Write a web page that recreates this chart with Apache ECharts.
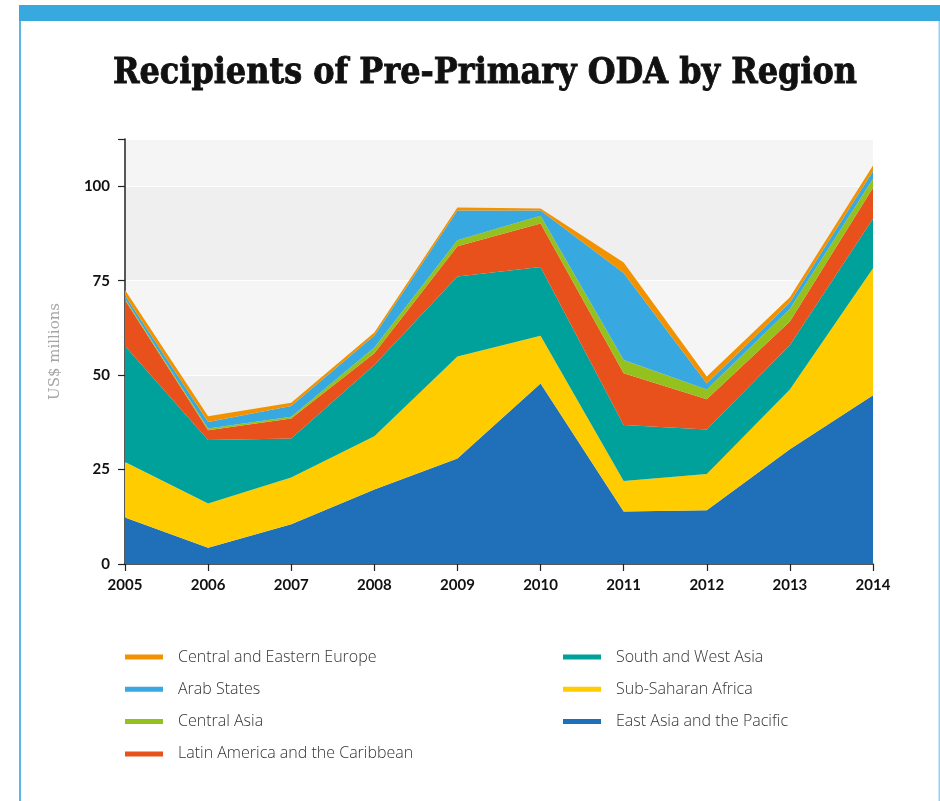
<!DOCTYPE html>
<html>
<head>
<meta charset="utf-8">
<script src="https://cdn.jsdelivr.net/npm/echarts@6/dist/echarts.min.js"></script>
<style>
html,body{margin:0;padding:0;background:#fff;}
#chart{width:940px;height:801px;}
</style>
</head>
<body>
<div id="chart"></div>
<script>
const years = ['2005','2006','2007','2008','2009','2010','2011','2012','2013','2014'];
const eastAsiaPacific = [12.3, 4.3, 10.5, 19.7, 27.9, 47.8, 13.9, 14.2, 30.4, 44.7];
const subSaharanAfrica = [14.7, 11.7, 12.4, 14.1, 27.0, 12.6, 8.1, 9.6, 15.8, 33.6];
const southWestAsia = [30.7, 16.8, 10.3, 18.9, 21.2, 18.2, 14.8, 11.8, 11.8, 13.1];
const latinAmerica = [12.2, 2.6, 5.3, 3.1, 8.0, 11.5, 13.7, 8.0, 6.2, 8.2];
const centralAsia = [0.3, 0.5, 0.5, 1.5, 1.6, 2.1, 3.5, 2.6, 3.3, 2.4];
const arabStates = [0.9, 1.7, 2.8, 3.2, 7.9, 1.4, 23.0, 1.6, 1.7, 2.0];
const centralEasternEurope = [1.4, 1.5, 0.9, 0.8, 0.8, 0.5, 2.8, 1.8, 1.4, 1.5];
const yTicks = [0, 25, 50, 75, 100];

const seriesDefs = [
  {name: 'East Asia and the Pacific', data: eastAsiaPacific, color: '#1F70B8'},
  {name: 'Sub-Saharan Africa', data: subSaharanAfrica, color: '#FFCC00'},
  {name: 'South and West Asia', data: southWestAsia, color: '#00A19A'},
  {name: 'Latin America and the Caribbean', data: latinAmerica, color: '#E8501C'},
  {name: 'Central Asia', data: centralAsia, color: '#95C11F'},
  {name: 'Arab States', data: arabStates, color: '#38A9E0'},
  {name: 'Central and Eastern Europe', data: centralEasternEurope, color: '#F39200'}
];

const chart = echarts.init(document.getElementById('chart'), null, {renderer: 'canvas'});
const legendText = {fontFamily: '"Open Sans", sans-serif', fontWeight: 300, fontSize: 16, color: '#333', lineHeight: 16, padding: [0, 0, 0, 10]};
const option = {
  animation: false,
  color: seriesDefs.map(s => s.color),
  title: {
    text: 'Recipients of Pre-Primary ODA by Region',
    left: 480, top: 51, textAlign: 'center',
    textStyle: {fontFamily: '"DejaVu Serif Condensed", "DejaVu Serif", serif', fontWeight: 'bold', fontSize: 35.5, color: '#111', textBorderColor: '#111', textBorderWidth: 0.8}
  },
  graphic: [
    {type: 'rect', shape: {x: 19, y: 5, width: 921, height: 16}, style: {fill: '#38A9DF'}},
    {type: 'rect', shape: {x: 19, y: 21, width: 2, height: 780}, style: {fill: '#5AB6E6'}},
    {type: 'rect', shape: {x: 938.5, y: 21, width: 1.5, height: 780}, style: {fill: '#9ACFEF'}}
  ],
  legend: [
    {
      data: ['Central and Eastern Europe', 'Arab States', 'Central Asia', 'Latin America and the Caribbean'],
      orient: 'vertical', left: 125, top: 649, padding: 0, itemGap: 16.3,
      icon: 'rect', itemWidth: 38, itemHeight: 5, textStyle: legendText, selectedMode: false
    },
    {
      data: ['South and West Asia', 'Sub-Saharan Africa', 'East Asia and the Pacific'],
      orient: 'vertical', left: 563, top: 649, padding: 0, itemGap: 16.3,
      icon: 'rect', itemWidth: 38, itemHeight: 5, textStyle: legendText, selectedMode: false
    }
  ],
  grid: {left: 125, right: 67, top: 139, bottom: 237, containLabel: false},
  xAxis: {
    type: 'category', data: years, boundaryGap: false,
    axisLine: {lineStyle: {color: '#222', width: 1.5}},
    axisTick: {show: true, length: 7, lineStyle: {color: '#222', width: 1.2}},
    axisLabel: {margin: 14, fontFamily: 'Lato, sans-serif', fontWeight: 'bold', fontSize: 15, color: '#111'},
    splitLine: {show: false}
  },
  yAxis: {
    type: 'value', min: 0, max: 112.5, interval: 25,
    name: 'US$ millions', nameLocation: 'middle', nameGap: 62,
    nameTextStyle: {fontFamily: '"DejaVu Serif", serif', fontSize: 15, color: '#a6a6a6'},
    axisLine: {show: true, lineStyle: {color: '#222', width: 1.5}},
    axisTick: {show: true, length: 7, lineStyle: {color: '#222', width: 1.2}},
    axisLabel: {
      margin: 15, fontFamily: 'Lato, sans-serif', fontWeight: 'bold', fontSize: 15, color: '#111',
      formatter: v => (yTicks.indexOf(v) >= 0 ? String(v) : '')
    },
    splitLine: {show: true, lineStyle: {color: '#ffffff', width: 1}},
    splitArea: {show: true, areaStyle: {color: ['#f5f5f5', '#efefef']}}
  },
  series: seriesDefs.map(s => ({
    name: s.name, type: 'line', stack: 'total', data: s.data,
    symbol: 'none', showSymbol: false,
    lineStyle: {width: 0, color: s.color},
    itemStyle: {color: s.color},
    areaStyle: {color: s.color, opacity: 1}
  }))
};
chart.setOption(option);
</script>
</body>
</html>
